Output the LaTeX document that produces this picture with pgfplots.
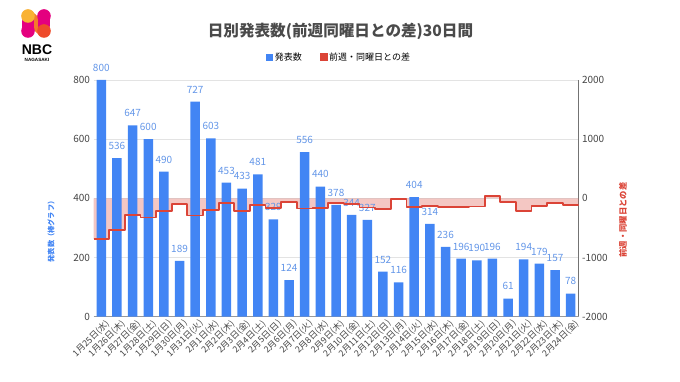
\documentclass[border=0pt]{standalone}
\usepackage{fontspec}
\setmainfont{Noto Sans CJK JP}
\newfontfamily\latinfont{Liberation Sans}
\usepackage{pgfplots}
\pgfplotsset{compat=1.18}
\definecolor{barblue}{HTML}{4285F4}
\definecolor{linered}{HTML}{DB4437}
\definecolor{lblblue}{HTML}{6396E8}
\definecolor{gridgray}{HTML}{E3E3E3}
\definecolor{ticktxt}{HTML}{444444}
\definecolor{titletxt}{HTML}{4A4A4A}
\definecolor{logoY}{HTML}{F9B233}
\definecolor{logoP}{HTML}{E4007F}
\definecolor{logoR}{HTML}{EE4B2B}
\definecolor{logoO}{HTML}{F37A2B}
\begin{document}
\begin{tikzpicture}[x=1pt,y=1pt]
\useasboundingbox (0,0) rectangle (680,382);
% logo
\draw[line width=12.5pt, line cap=round, logoO] (28,366) -- (44,351);
\draw[line width=12.5pt, line cap=round, logoP] (44,366) -- (44,357);
\draw[line width=12.5pt, line cap=round, logoP] (28,351) -- (28,360);
\fill[logoY] (28,366) circle (6.8);
\fill[logoP] (44,366) circle (6.8);
\fill[logoP] (28,351) circle (6.8);
\fill[logoR] (44,351) circle (6.8);
\node[font=\latinfont\bfseries\fontsize{14}{16}\selectfont, inner sep=0pt] at (37,332) {NBC};
\node[font=\latinfont\bfseries\fontsize{4.6}{5}\selectfont, inner sep=0pt] at (37,322) {NAGASAKI};
% title
\node[font=\fontsize{15.6}{18}\selectfont\bfseries, color=titletxt] at (340.5,351) {日別発表数(前週同曜日との差)30日間};
% axis labels
\node[rotate=90, font=\fontsize{7.2}{8}\selectfont\bfseries, color=barblue] at (51,152) {発表数（棒グラフ）};
\node[rotate=90, font=\fontsize{8.3}{9}\selectfont\bfseries, color=linered] at (623,162) {前週・同曜日との差};

\pgfplotsset{every axis/.append style={at={(93.5pt,65.3pt)}, anchor=south west,
  width=485pt, height=236.7pt, scale only axis, xmin=-0.5, xmax=30.5, major tick length=0pt}}

% right axis: grid + fill
\begin{axis}[ymin=-2000, ymax=2000, ytick={-2000,-1000,0,1000,2000},
  yticklabels={-2000,-1000,0,1000,2000},
  axis y line*=right, axis x line=none, xtick=\empty,
  ymajorgrids, grid style={gridgray, line width=0.8pt},
  y axis line style={draw=gray!90!black, line width=0.8pt},
  yticklabel style={font=\fontsize{10}{12}\selectfont, color=ticktxt}]
\addplot[draw=none, fill=linered, fill opacity=0.3] coordinates {
(-0.5,0) (-0.5,-685) (0.5,-685) (0.5,-535) (1.5,-535) (1.5,-275) (2.5,-275) (2.5,-325) (3.5,-325)
(3.5,-220) (4.5,-220) (4.5,-100) (5.5,-100) (5.5,-290) (6.5,-290) (6.5,-197) (7.5,-197)
(7.5,-83) (8.5,-83) (8.5,-214) (9.5,-214) (9.5,-119) (10.5,-119) (10.5,-161) (11.5,-161)
(11.5,-65) (12.5,-65) (12.5,-171) (13.5,-171) (13.5,-163) (14.5,-163) (14.5,-75) (15.5,-75)
(15.5,-89) (16.5,-89) (16.5,-154) (17.5,-154) (17.5,-177) (18.5,-177) (18.5,-8) (19.5,-8)
(19.5,-152) (20.5,-152) (20.5,-126) (21.5,-126) (21.5,-142) (22.5,-142) (22.5,-148) (23.5,-148)
(23.5,-137) (24.5,-137) (24.5,44) (25.5,44) (25.5,-55) (26.5,-55) (26.5,-210) (27.5,-210)
(27.5,-135) (28.5,-135) (28.5,-79) (29.5,-79) (29.5,-118) (30.5,-118) (30.5,0)};
\end{axis}

% left axis: bars
\begin{axis}[ymin=0, ymax=800, ytick={0,200,400,600,800},
  axis y line*=left, y axis line style={draw=none},
  axis x line*=bottom, x axis line style={draw=gray!80, line width=0.8pt},
  /pgf/number format/assume math mode=true,
  yticklabel style={font=\fontsize{10}{12}\selectfont, color=ticktxt},
  xtick={0,...,30},
  xticklabels={1月25日(水),1月26日(木),1月27日(金),1月28日(土),1月29日(日),1月30日(月),1月31日(火),
    2月1日(水),2月2日(木),2月3日(金),2月4日(土),2月5日(日),2月6日(月),2月7日(火),2月8日(水),
    2月9日(木),2月10日(金),2月11日(土),2月12日(日),2月13日(月),2月14日(火),2月15日(水),
    2月16日(木),2月17日(金),2月18日(土),2月19日(日),2月20日(月),2月21日(火),2月22日(水),
    2月23日(木),2月24日(金)},
  xticklabel style={rotate=45, anchor=north east, font=\fontsize{8.8}{10}\selectfont, color=ticktxt, inner sep=1pt, xshift=2pt, yshift=-2.5pt},
  ybar, bar width=9.5pt,
  nodes near coords,
  nodes near coords style={font=\fontsize{10}{12}\selectfont, color=lblblue, yshift=5pt},
  legend style={at={(0.506,1.097)}, anchor=center, draw=none, legend columns=2,
    font=\fontsize{9}{11}\selectfont, fill=none,
    /tikz/every even column/.append style={column sep=16pt}},
  ]
\addplot[fill=barblue, draw=none,
  legend image code/.code={\fill[barblue] (0pt,-3.5pt) rectangle (7pt,3.5pt);}] coordinates {
(0,800) (1,536) (2,647) (3,600) (4,490) (5,189) (6,727) (7,603) (8,453) (9,433) (10,481)
(11,329) (12,124) (13,556) (14,440) (15,378) (16,344) (17,327) (18,152) (19,116) (20,404)
(21,314) (22,236) (23,196) (24,190) (25,196) (26,61) (27,194) (28,179) (29,157) (30,78)};
\addlegendentry{発表数}
\addlegendimage{legend image code/.code={\fill[linered] (0pt,-3.5pt) rectangle (7pt,3.5pt);}}
\addlegendentry{前週・同曜日との差}
\end{axis}

% right axis: line
\begin{axis}[ymin=-2000, ymax=2000, axis lines=none, xtick=\empty, ytick=\empty]
\addplot[linered, line width=1.8pt, line join=round, mark=none] coordinates {
(-0.5,-685) (0.5,-685) (0.5,-535) (1.5,-535) (1.5,-275) (2.5,-275) (2.5,-325) (3.5,-325)
(3.5,-220) (4.5,-220) (4.5,-100) (5.5,-100) (5.5,-290) (6.5,-290) (6.5,-197) (7.5,-197)
(7.5,-83) (8.5,-83) (8.5,-214) (9.5,-214) (9.5,-119) (10.5,-119) (10.5,-161) (11.5,-161)
(11.5,-65) (12.5,-65) (12.5,-171) (13.5,-171) (13.5,-163) (14.5,-163) (14.5,-75) (15.5,-75)
(15.5,-89) (16.5,-89) (16.5,-154) (17.5,-154) (17.5,-177) (18.5,-177) (18.5,-8) (19.5,-8)
(19.5,-152) (20.5,-152) (20.5,-126) (21.5,-126) (21.5,-142) (22.5,-142) (22.5,-148) (23.5,-148)
(23.5,-137) (24.5,-137) (24.5,44) (25.5,44) (25.5,-55) (26.5,-55) (26.5,-210) (27.5,-210)
(27.5,-135) (28.5,-135) (28.5,-79) (29.5,-79) (29.5,-118) (30.5,-118)};
\end{axis}
\end{tikzpicture}
\end{document}
